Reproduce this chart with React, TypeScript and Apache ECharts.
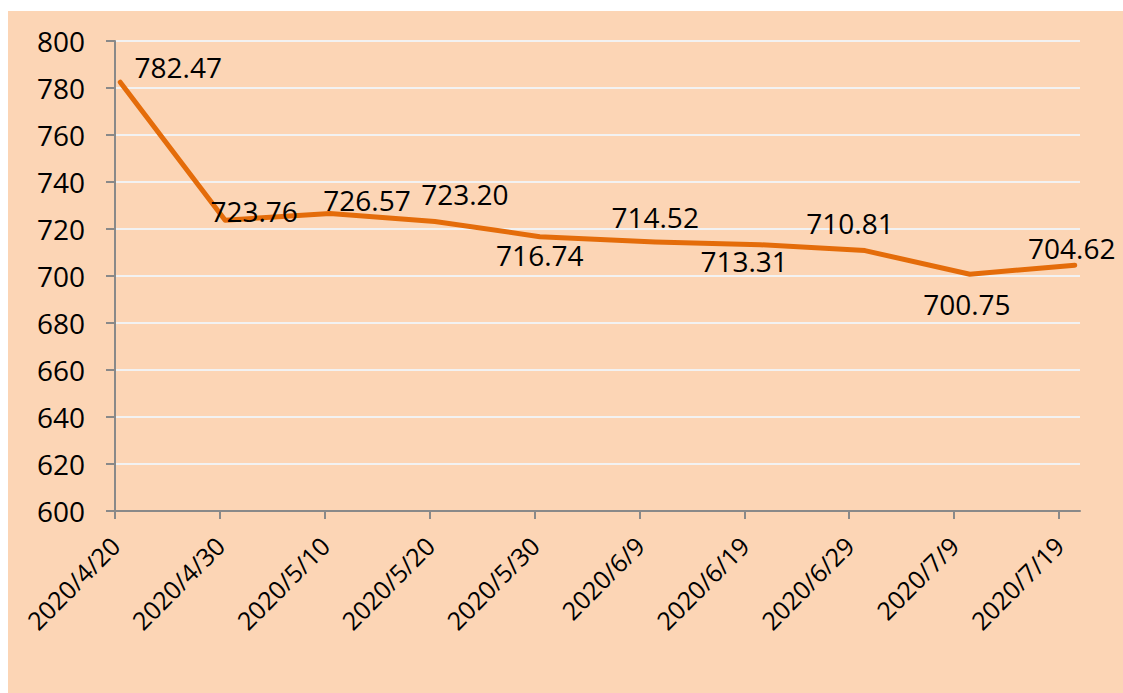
import React, { useEffect, useRef } from "react";
import * as echarts from "echarts";

// Data
const dates = ["2020/4/20", "2020/4/30", "2020/5/10", "2020/5/20", "2020/5/30", "2020/6/10", "2020/6/20", "2020/6/30", "2020/7/10", "2020/7/20"];
const values = [782.47, 723.76, 726.57, 723.2, 716.74, 714.52, 713.31, 710.81, 700.75, 704.62];
const tickDates = ["2020/4/20", "2020/4/30", "2020/5/10", "2020/5/20", "2020/5/30", "2020/6/9", "2020/6/19", "2020/6/29", "2020/7/9", "2020/7/19"];
const axisStartDate = "2020/4/20";
const axisEndDate = "2020/7/21";
const yMin = 600;
const yMax = 800;
const yStep = 20;

// Label placement (layout only)
const labelOffsets: [number, number][] = [
  [58, -15], [29, -9], [37, -14], [30, -27], [0, 18],
  [0, -25], [-16, 16], [-15, -28], [-3, 30], [-3, -17],
];

const toUTC = (s: string) => {
  const [y, m, d] = s.split("/").map(Number);
  return Date.UTC(y, m - 1, d);
};
const dayOffset = (s: string) => (toUTC(s) - toUTC(axisStartDate)) / 86400000;

const FONT = "'Open Sans', 'Noto Sans', sans-serif";

export default function App() {
  const ref = useRef<HTMLDivElement>(null);
  useEffect(() => {
    if (!ref.current) return;
    const chart = echarts.init(ref.current, undefined, { renderer: "svg" });
    const tickOffsets = tickDates.map(dayOffset);
    const seriesData = dates.map((d, i) => ({
      value: [dayOffset(d) + 0.5, values[i]],
      label: { offset: labelOffsets[i] },
    }));
    chart.setOption({
      animation: false,
      backgroundColor: "#FCD5B5",
      grid: { left: 107, right: 43, top: 30, bottom: 182, containLabel: false },
      xAxis: {
        type: "value",
        min: 0,
        max: dayOffset(axisEndDate),
        axisLine: { show: true, lineStyle: { color: "#898989", width: 2 } },
        axisTick: { show: true, length: 8, lineStyle: { color: "#898989", width: 2 }, customValues: tickOffsets },
        splitLine: { show: false },
        axisLabel: {
          customValues: tickOffsets,
          rotate: 45,
          margin: 30,
          fontSize: 25,
          color: "#000",
          fontFamily: FONT,
          formatter: (v: number) => {
            const idx = tickOffsets.indexOf(Math.round(v));
            return idx >= 0 ? tickDates[idx] : "";
          },
        },
      },
      yAxis: {
        type: "value",
        min: yMin,
        max: yMax,
        interval: yStep,
        axisLine: { show: true, lineStyle: { color: "#898989", width: 2 } },
        axisTick: { show: true, length: 9, lineStyle: { color: "#898989", width: 2 } },
        splitLine: { show: true, lineStyle: { color: "#F2F2F2", width: 2 } },
        axisLabel: { margin: 30, fontSize: 28, color: "#000", fontFamily: FONT },
      },
      series: [
        {
          type: "line",
          data: seriesData,
          symbol: "circle",
          symbolSize: 1,
          itemStyle: { color: "#E46C0A" },
          lineStyle: { color: "#E46C0A", width: 5, cap: "round", join: "round" },
          label: {
            show: true,
            position: "inside",
            align: "center",
            verticalAlign: "middle",
            fontSize: 28,
            color: "#000",
            fontFamily: FONT,
            formatter: (p: any) => Number(p.value[1]).toFixed(2),
          },
        },
      ],
    });
    return () => chart.dispose();
  }, []);
  return (
    <div style={{ position: "fixed", left: 0, top: 0, width: 1123, height: 693, background: "#fff" }}>
      <div ref={ref} style={{ position: "absolute", left: 8, top: 11, width: 1115, height: 682 }} />
    </div>
  );
}
